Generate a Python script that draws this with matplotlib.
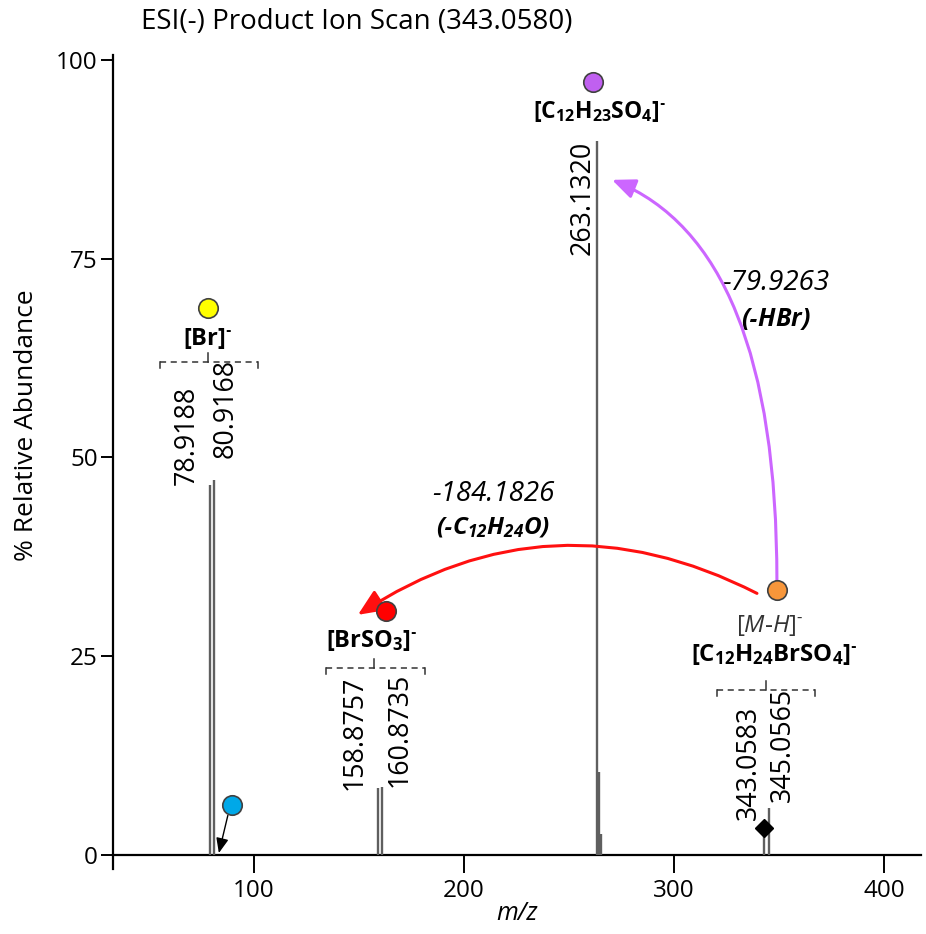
import matplotlib
matplotlib.use('Agg')
import matplotlib.pyplot as plt

plt.rcParams['font.family'] = ['Open Sans', 'DejaVu Sans']
plt.rcParams['mathtext.fontset'] = 'custom'
plt.rcParams['mathtext.rm'] = 'Open Sans'
plt.rcParams['mathtext.it'] = 'Open Sans:italic'
plt.rcParams['mathtext.bf'] = 'Open Sans:bold'
plt.rcParams['mathtext.bfit'] = 'Open Sans:bold:italic'

HY = '\u2010'  # hyphen (avoid math minus)

# ---------------- data ----------------
peak_mz = [78.9188, 80.9168, 158.8757, 160.8735, 263.1320, 264.135, 265.128, 343.0583, 345.0565]
peak_int = [46.5, 47.2, 8.4, 8.6, 89.8, 10.4, 2.6, 3.0, 5.9]

label_mz = [78.9188, 80.9168, 158.8757, 160.8735, 263.1320, 343.0583, 345.0565]
label_text = ['78.9188', '80.9168', '158.8757', '160.8735', '263.1320', '343.0583', '345.0565']

ion_names = [r'$\mathbf{[Br]^{' + HY + '}}$',
             r'$\mathbf{[C_{12}H_{23}SO_{4}]^{' + HY + '}}$',
             r'$\mathbf{[BrSO_{3}]^{' + HY + '}}$',
             r'$\mathbf{[C_{12}H_{24}BrSO_{4}]^{' + HY + '}}$']
precursor_name = r'$\mathit{[M' + HY + 'H]^{' + HY + '}}$'
loss_values = ['-79.9263', '-184.1826']
loss_names = [r'$\mathbfit{(' + HY + 'HBr)}$', r'$\mathbfit{(' + HY + 'C_{12}H_{24}O)}$']

precursor_mz = 343.0583
xticks = [100, 200, 300, 400]
yticks = [0, 25, 50, 75, 100]

# ---------------- figure ----------------
W, H = 926, 934
fig = plt.figure(figsize=(W / 100, H / 100), dpi=100)
ax = fig.add_axes([113 / W, 1 - 869 / H, (921 - 113) / W, (869 - 55) / H])
ax.set_xlim(32.9, 417.6)
ax.set_ylim(-1.76, 100.6)

for s in ['top', 'right']:
    ax.spines[s].set_visible(False)
ax.spines['bottom'].set_position(('data', 0))
ax.spines['left'].set_linewidth(1.6)
ax.spines['bottom'].set_linewidth(1.6)
ax.set_xticks(xticks)
ax.set_yticks(yticks)
ax.tick_params(axis='both', direction='out', width=1.4, labelsize=17.5, colors='black')
ax.tick_params(axis='x', length=13, pad=4)
ax.tick_params(axis='y', length=9, pad=2)

# peaks
ax.vlines(peak_mz, 0, peak_int, color='#5f5f5f', lw=1.7, zorder=3)
ax.plot([precursor_mz], [3.4], marker='D', color='black', ms=9, zorder=5)

# peak labels (rotated)
lab_pos = {
    '78.9188': (68.1, 46.5),
    '80.9168': (86.7, 49.9),
    '158.8757': (148.1, 8.2),
    '160.8735': (169.5, 8.6),
    '263.1320': (256.7, 75.5),
    '343.0583': (335.6, 4.4),
    '345.0565': (351.6, 6.7),
}
for t in label_text:
    x, y = lab_pos[t]
    ax.text(x, y, t, rotation=90, ha='center', va='bottom', fontsize=19.3)


def bracket(x0, x1, xc, y):
    ax.plot([x0, x1], [y, y], color='#333333', lw=1.1, ls=(0, (4, 3)))
    ax.plot([x0, x0], [y, y - 0.8], color='#333333', lw=1.1)
    ax.plot([x1, x1], [y, y - 0.8], color='#333333', lw=1.1)
    ax.plot([xc, xc], [y, y + 1.1], color='#333333', lw=1.1)


bracket(55.2, 101.9, 78.1, 62.0)
bracket(134.3, 181.4, 157.1, 23.5)
bracket(320.5, 367.1, 343.8, 20.8)

# circles
circ = [(78.1, 68.8, '#FFFF00'), (261.4, 97.2, '#C060F0'), (349.0, 33.3, '#F7963A'),
        (162.9, 30.7, '#FF0000'), (89.5, 6.3, '#00A8E8')]
for x, y, c in circ:
    ax.plot([x], [y], marker='o', ms=14, mfc=c, mec='#404040', mew=1.2, zorder=6, clip_on=False)

# ion names
ax.text(78.1, 64.9, ion_names[0], ha='center', va='center', fontsize=17)
ax.text(264.8, 93.5, ion_names[1], ha='center', va='center', fontsize=16.5)
ax.text(156.2, 27.0, ion_names[2], ha='center', va='center', fontsize=17)
ax.text(345.7, 28.9, precursor_name, ha='center', va='center', fontsize=17.5, color='#333333')
ax.text(347.6, 25.2, ion_names[3], ha='center', va='center', fontsize=17.3)

# neutral loss labels
ax.text(348.6, 71.9, loss_values[0], ha='center', va='center', fontsize=20, style='italic')
ax.text(348.6, 67.4, loss_names[0], ha='center', va='center', fontsize=18)
ax.text(213.8, 45.4, loss_values[1], ha='center', va='center', fontsize=20, style='italic')
ax.text(213.8, 41.1, loss_names[1], ha='center', va='center', fontsize=17.5)

# arrows
ax.annotate('', xy=(270.5, 84.9), xytext=(349.0, 34.6),
            arrowprops=dict(arrowstyle='-|>,head_length=0.7,head_width=0.3', color='#CC66FF', lw=2.2,
                            connectionstyle='angle3,angleA=90,angleB=-22',
                            shrinkA=0, shrinkB=0, mutation_scale=20))
ax.annotate('', xy=(149.5, 30.2), xytext=(339.5, 32.9),
            arrowprops=dict(arrowstyle='-|>,head_length=0.8,head_width=0.35', color='#FF1010', lw=2.2,
                            connectionstyle='arc3,rad=0.29',
                            shrinkA=0, shrinkB=0, mutation_scale=20))
ax.annotate('', xy=(83.3, 0.25), xytext=(87.6, 5.0),
            arrowprops=dict(arrowstyle='-|>,head_length=0.6,head_width=0.25', color='black', lw=1.0,
                            shrinkA=0, shrinkB=0, mutation_scale=15))

# texts
fig.text(357 / W, 1 - 22 / H, 'ESI(-) Product Ion Scan (343.0580)', ha='center', va='center', fontsize=20)
fig.text(27 / W, 1 - 425 / H, '% Relative Abundance', rotation=90, ha='center', va='center', fontsize=19)
fig.text(517 / W, 1 - 913 / H, 'm/z', ha='center', va='center', fontsize=18, style='italic')

fig.savefig('out.png', dpi=100)
